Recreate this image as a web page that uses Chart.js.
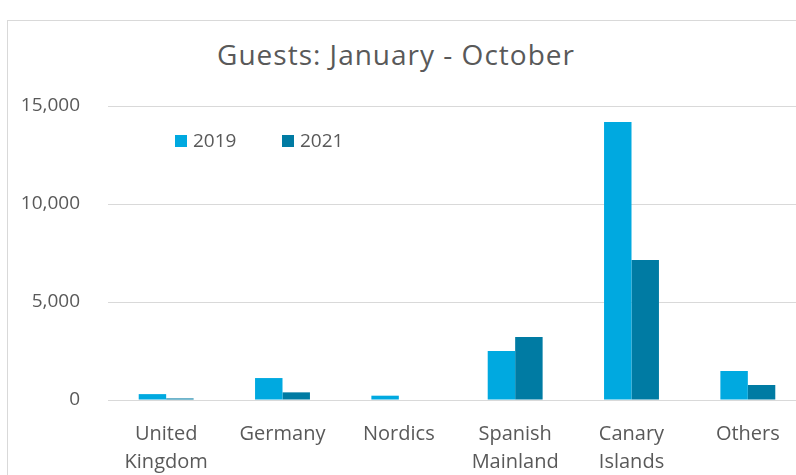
<!DOCTYPE html>
<html>
<head>
<meta charset="utf-8">
<script src="https://cdn.jsdelivr.net/npm/chart.js@4/dist/chart.umd.min.js"></script>
<style>
  html,body{margin:0;padding:0;background:#fff;overflow:hidden;width:796px;height:475px;}
  #frame{position:absolute;left:7px;top:20px;width:840px;height:500px;border:1px solid #d9d9d9;box-sizing:border-box;}
  #wrap{position:absolute;left:8px;top:21px;width:800px;height:460px;}
  #title{position:absolute;left:0;width:792px;top:35px;text-align:center;font-family:'Open Sans',sans-serif;font-size:28px;line-height:38px;color:#595959;letter-spacing:1px;}
  #legend{position:absolute;top:127px;left:175px;font-family:'Open Sans',sans-serif;font-size:19px;color:#595959;}
  #legend span.item{position:absolute;white-space:nowrap;}
  #legend i{display:inline-block;width:12px;height:12px;margin-right:6px;vertical-align:0px;}
</style>
</head>
<body>
<div id="frame"></div>
<div id="title">Guests: January - October</div>
<div id="wrap"><canvas id="chart"></canvas></div>
<div id="legend"></div>
<script>
  // ---- data ----
  const categories = [['United','Kingdom'],'Germany','Nordics',['Spanish','Mainland'],['Canary','Islands'],'Others'];
  const seriesNames = ['2019','2021'];
  const guests2019 = [300, 1120, 220, 2500, 14180, 1480];
  const guests2021 = [80, 390, 0, 3210, 7140, 765];
  const yTicks = [0, 5000, 10000, 15000];

  const colors = ['#00A9E0','#007BA3'];
  const txt = '#595959';

  // html legend, inside the plot like the original
  const lg = document.getElementById('legend');
  seriesNames.forEach((n,i)=>{
    lg.insertAdjacentHTML('beforeend',
      `<span class="item" style="left:${i*107}px"><i style="background:${colors[i]}"></i>${n}</span>`);
  });

  new Chart(document.getElementById('chart'), {
    type:'bar',
    data:{
      labels:categories,
      datasets:[
        {label:seriesNames[0], data:guests2019, backgroundColor:colors[0], borderWidth:0},
        {label:seriesNames[1], data:guests2021, backgroundColor:colors[1], borderWidth:0}
      ]
    },
    options:{
      responsive:true, maintainAspectRatio:false, animation:false,
      layout:{padding:{top:85, right:2, left:0, bottom:0}},
      datasets:{bar:{categoryPercentage:0.472, barPercentage:1}},
      plugins:{legend:{display:false}, tooltip:{enabled:false}, title:{display:false}},
      scales:{
        x:{
          grid:{display:false, drawTicks:false},
          border:{color:'#d9d9d9', width:1},
          ticks:{color:txt, font:{family:"'Open Sans', sans-serif", size:20, lineHeight:1.4}, padding:20, maxRotation:0, autoSkip:false},
          afterFit:s=>{ s.height = 81; }
        },
        y:{
          min:0, max:15000,
          afterBuildTicks:s=>{ s.ticks = yTicks.map(v=>({value:v})); },
          grid:{color:'#d9d9d9', lineWidth:1, drawTicks:false},
          border:{display:false},
          ticks:{color:txt, font:{family:"'Open Sans', sans-serif", size:19}, padding:28, callback:v=>v.toLocaleString('en-US')},
          afterFit:s=>{ s.width = 100; }
        }
      }
    }
  });
</script>
</body>
</html>
